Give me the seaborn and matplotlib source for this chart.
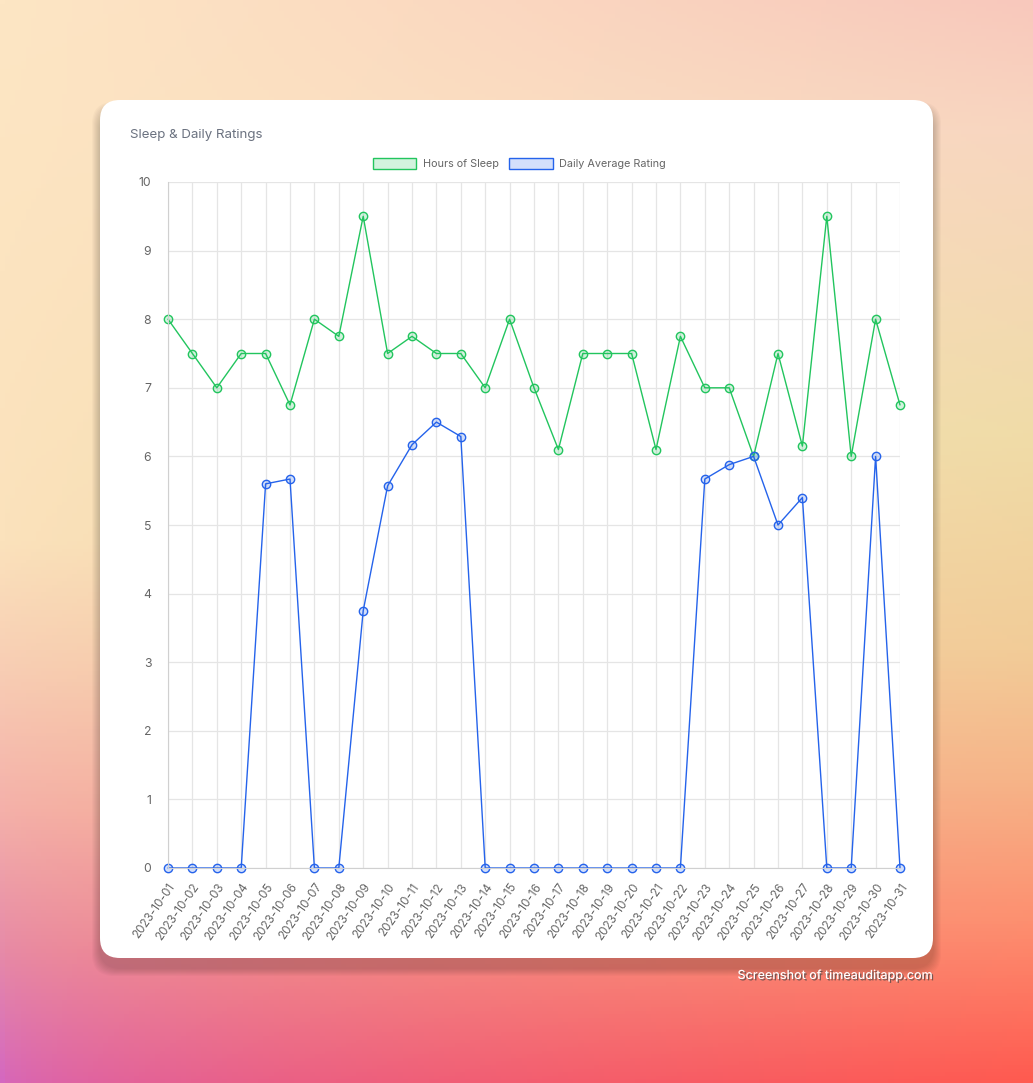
import numpy as np
import pandas as pd
import seaborn as sns
import matplotlib.pyplot as plt
import matplotlib.patheffects as pe
from matplotlib.colors import to_rgb
from matplotlib.patches import FancyBboxPatch, Patch

# data
dates = [f"2023-10-{d:02d}" for d in range(1, 32)]
sleep_hours = [8, 7.5, 7, 7.5, 7.5, 6.75, 8, 7.75, 9.5, 7.5,
               7.75, 7.5, 7.5, 7, 8, 7, 6.1, 7.5, 7.5, 7.5,
               6.1, 7.75, 7, 7, 6, 7.5, 6.15, 9.5, 6, 8, 6.75]
avg_rating = [0, 0, 0, 0, 5.6, 5.67, 0, 0, 3.75, 5.57,
              6.17, 6.5, 6.29, 0, 0, 0, 0, 0, 0, 0,
              0, 0, 5.67, 5.88, 6.0, 5.0, 5.4, 0, 0, 6.0, 0]

df = pd.DataFrame({"idx": range(len(dates)), "date": dates,
                   "sleep": sleep_hours, "rating": avg_rating})

sns.set_style("white")
plt.rcParams['font.family'] = ['Inter', 'DejaVu Sans']

W, H = 1033, 1083
fig = plt.figure(figsize=(W / 100, H / 100), dpi=100)

# gradient background: vertical stops on left and right edge, blended across
def column(stops, n):
    ys = np.linspace(0, 1, n)
    pos = [p for p, _ in stops]
    cols = np.array([to_rgb(c) for _, c in stops])
    return np.stack([np.interp(ys, pos, cols[:, k]) for k in range(3)], axis=1)

n = 300
left = column([(0, "#fde6c4"), (0.5, "#fbe2bc"), (0.62, "#f8cdb4"), (0.75, "#f4b0aa"),
               (0.88, "#e68aa8"), (1.0, "#d468c0")], n)
right = column([(0, "#f8c8bc"), (0.12, "#f8d6c0"), (0.4, "#f0dca8"), (0.6, "#f2cc98"),
                (0.72, "#f6b488"), (0.85, "#fd9070"), (1.0, "#ff5a50")], n)
yy, xx = np.mgrid[0:1:complex(n), 0:1:200j]
w = xx ** (1.0 - 0.5 * yy)
img = left[:, None, :] * (1 - w[..., None]) + right[:, None, :] * w[..., None]

bg = fig.add_axes([0, 0, 1, 1])
bg.imshow(img, extent=[0, W, H, 0], aspect="auto")
bg.set_xlim(0, W)
bg.set_ylim(H, 0)
bg.axis("off")

# soft card shadow + card
for i in range(8):
    s = 16 - i * 2
    bg.add_patch(FancyBboxPatch((100 - s / 2, 100 + 10 - s / 2), 833 + s, 858 + s,
                                boxstyle="round,pad=0,rounding_size=22",
                                fc="black", ec="none", alpha=0.025))
bg.add_patch(FancyBboxPatch((100, 100), 833, 858,
                            boxstyle="round,pad=0,rounding_size=20",
                            fc="white", ec="none"))
bg.text(130, 135, "Sleep & Daily Ratings", fontsize=9.6, color="#6b7280", va="center")
bg.text(933, 976, "Screenshot of timeauditapp.com", fontsize=9, color="white",
        ha="right", va="center", fontweight="medium",
        path_effects=[pe.withSimplePatchShadow(offset=(1, -1), shadow_rgbFace="#444444", alpha=0.7)])

# main chart
x0, x1, y0, y1 = 168, 900, 182, 868
ax = fig.add_axes([x0 / W, 1 - y1 / H, (x1 - x0) / W, (y1 - y0) / H])
ax.set_facecolor("none")

green, blue = "#22c55e", "#2563eb"
sns.lineplot(data=df, x="idx", y="sleep", ax=ax, color=green, linewidth=1.0,
             marker="o", markersize=6, markerfacecolor=(0.13, 0.77, 0.37, 0.2),
             markeredgecolor=green, markeredgewidth=1, clip_on=False)
sns.lineplot(data=df, x="idx", y="rating", ax=ax, color=blue, linewidth=1.0,
             marker="o", markersize=6, markerfacecolor=(0.15, 0.39, 0.92, 0.2),
             markeredgecolor=blue, markeredgewidth=1, clip_on=False)

ax.set_xlim(0, len(dates) - 1)
ax.set_ylim(0, 10)
ax.set_yticks(range(0, 11))
ax.set_xticks(df["idx"])
ax.set_xticklabels(dates, rotation=55, ha="right", rotation_mode="anchor")
ax.tick_params(axis="both", labelsize=8.4, labelcolor="#666666", color="#dddddd",
               length=6, width=1)
ax.tick_params(axis="y", pad=6, labelsize=8.8)
ax.grid(True, color="#e5e5e5", linewidth=0.9)
for side in ["top", "right"]:
    ax.spines[side].set_visible(False)
for side in ["left", "bottom"]:
    ax.spines[side].set_color("#d0d0d0")
ax.set_xlabel("")
ax.set_ylabel("")

handles = [Patch(facecolor=(0.13, 0.77, 0.37, 0.2), edgecolor=green, label="Hours of Sleep"),
           Patch(facecolor=(0.15, 0.39, 0.92, 0.2), edgecolor=blue, label="Daily Average Rating")]
ax.legend(handles=handles, loc="lower center", bbox_to_anchor=(0.48, 1.005), ncol=2,
          frameon=False, fontsize=7.8, labelcolor="#666666",
          handlelength=4.0, handleheight=1.2, handletextpad=0.6, columnspacing=1.0)

fig.savefig("out.png", dpi=100)
